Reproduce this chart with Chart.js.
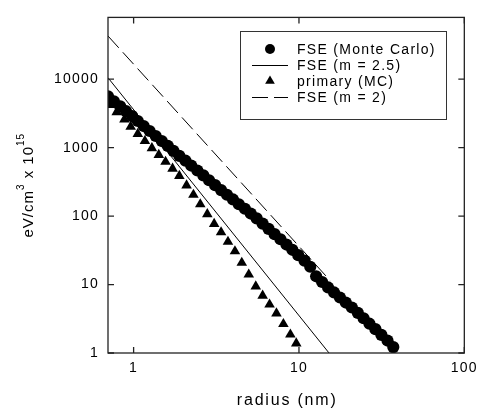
<!DOCTYPE html>
<html>
<head>
<meta charset="utf-8">
<script src="https://cdn.jsdelivr.net/npm/chart.js@4/dist/chart.umd.min.js"></script>
<style>
  body { margin: 0; background: #fff; }
  canvas { display: block; }
</style>
</head>
<body>
<canvas id="chart" width="483" height="414"></canvas>
<script>
// FSE energy density, Monte Carlo (circles)
const fseRadius = [0.70, 0.76, 0.83, 0.90, 0.98, 1.06, 1.15, 1.25, 1.36, 1.48, 1.61, 1.74, 1.89, 2.06, 2.23, 2.43, 2.64, 2.86, 3.11, 3.38, 3.67, 3.99, 4.33, 4.71, 5.11, 5.55, 6.03, 6.55, 7.12, 7.73, 8.40, 9.12, 9.90, 10.8, 11.7, 12.7, 13.8, 15.0, 16.3, 17.7, 19.2, 20.9, 22.7, 24.6, 26.7, 29.0, 31.5, 34.3, 37.2];
const fseValues = [5630, 4760, 4030, 3410, 2890, 2450, 2070, 1750, 1480, 1250, 1060, 898, 760, 645, 548, 464, 394, 334, 283, 240, 205, 175, 149, 128, 109, 92.6, 77.6, 65.1, 54.5, 45.9, 38.4, 32.2, 26.9, 22.4, 18.2, 13.2, 10.9, 9.07, 7.67, 6.47, 5.46, 4.62, 3.86, 3.22, 2.68, 2.23, 1.84, 1.52, 1.22];

// primary (MC), triangles
const primaryRadius = [0.72, 0.79, 0.88, 0.96, 1.06, 1.17, 1.29, 1.42, 1.56, 1.72, 1.89, 2.09, 2.30, 2.53, 2.79, 3.07, 3.38, 3.72, 4.10, 4.51, 4.97, 5.48, 6.03, 6.64, 7.31, 8.05, 8.87, 9.63];
const primaryValues = [4210, 3300, 2590, 2030, 1590, 1250, 985, 782, 621, 493, 386, 281, 205, 149, 107, 77.1, 58.1, 42.2, 30.6, 20.8, 14.0, 9.39, 6.88, 5.11, 3.78, 2.65, 1.86, 1.38];

// fitted lines (straight on log-log)
const fit25Radius = [0.7, 15.2];
const fit25Values = [10500, 1];
const fit2Radius = [0.7, 15.4];
const fit2Values = [42800, 11.5];

const xTicks = [1, 10, 100];
const yTicks = [1, 10, 100, 1000, 10000];
const legendLabels = ["FSE (Monte Carlo)", "FSE (m = 2.5)", "primary (MC)", "FSE (m = 2)"];

const FONT = "'Liberation Sans', Arial, sans-serif";
const toPoints = (xs, ys) => xs.map((x, i) => ({ x, y: ys[i] }));

const framePlugin = {
  id: "frame",
  beforeDraw(chart) {
    chart.ctx.letterSpacing = "1.2px";
  },
  afterDraw(chart) {
    const { ctx, chartArea: a, scales } = chart;
    ctx.save();

    // box and inward ticks
    ctx.strokeStyle = "#222";
    ctx.lineWidth = 1.3;
    ctx.strokeRect(a.left, a.top, a.right - a.left, a.bottom - a.top);
    ctx.beginPath();
    xTicks.forEach((v) => {
      const px = scales.x.getPixelForValue(v);
      ctx.moveTo(px, a.bottom); ctx.lineTo(px, a.bottom - 6);
      ctx.moveTo(px, a.top); ctx.lineTo(px, a.top + 6);
    });
    yTicks.forEach((v) => {
      const py = scales.y.getPixelForValue(v);
      ctx.moveTo(a.left, py); ctx.lineTo(a.left + 6, py);
      ctx.moveTo(a.right, py); ctx.lineTo(a.right - 6, py);
    });
    ctx.stroke();

    ctx.fillStyle = "#000";

    // x title
    ctx.font = "16px " + FONT;
    ctx.letterSpacing = "1.8px";
    ctx.textAlign = "center";
    ctx.textBaseline = "alphabetic";
    ctx.fillText("radius (nm)", (a.left + a.right) / 2 + 1, 405);

    // y title with superscripts
    ctx.save();
    ctx.translate(33, (a.top + a.bottom) / 2);
    ctx.rotate(-Math.PI / 2);
    ctx.textAlign = "left";
    ctx.letterSpacing = "1px";
    const parts = [
      ["eV/cm", 15, 0], ["3", 10, -9], [" x 10", 15, 0], ["15", 10, -9]
    ];
    let total = 0;
    parts.forEach((p) => { ctx.font = p[1] + "px " + FONT; total += ctx.measureText(p[0]).width; });
    let cx = -total / 2;
    parts.forEach((p) => {
      ctx.font = p[1] + "px " + FONT;
      ctx.fillText(p[0], cx, p[2]);
      cx += ctx.measureText(p[0]).width;
    });
    ctx.restore();

    // legend
    const ds = chart.data.datasets;
    ctx.fillStyle = "#fff";
    ctx.fillRect(240.5, 31.5, 206, 88);
    ctx.strokeStyle = "#333";
    ctx.lineWidth = 1;
    ctx.strokeRect(240.5, 31.5, 206, 88);
    ctx.font = "14px " + FONT;
    ctx.letterSpacing = "1.3px";
    ctx.textAlign = "left";
    ctx.textBaseline = "alphabetic";
    const rows = [49, 65, 81, 97];
    ds.forEach((d, i) => {
      const y = rows[i];
      ctx.fillStyle = "#000";
      ctx.strokeStyle = "#000";
      if (d.showLine) {
        ctx.lineWidth = 1;
        ctx.setLineDash(d.borderDash || []);
        ctx.beginPath();
        ctx.moveTo(252, y + 0.5); ctx.lineTo(288, y + 0.5);
        ctx.stroke();
        ctx.setLineDash([]);
      } else if (d.pointStyle === "triangle") {
        const r = 5.6;
        ctx.beginPath();
        ctx.moveTo(270, y - r);
        ctx.lineTo(270 + r * Math.sin(2 * Math.PI / 3), y + r / 2);
        ctx.lineTo(270 - r * Math.sin(2 * Math.PI / 3), y + r / 2);
        ctx.closePath();
        ctx.fill();
      } else {
        ctx.beginPath();
        ctx.arc(270, y, 5, 0, 2 * Math.PI);
        ctx.fill();
      }
      ctx.fillText(legendLabels[i], 297, y + 5);
    });

    ctx.restore();
  }
};

const axisFont = { family: FONT, size: 14 };

new Chart(document.getElementById("chart"), {
  type: "scatter",
  data: {
    datasets: [
      {
        label: legendLabels[0],
        data: toPoints(fseRadius, fseValues),
        pointStyle: "circle",
        pointRadius: 6.1,
        backgroundColor: "#000",
        borderColor: "#000",
        borderWidth: 0,
        showLine: false
      },
      {
        label: legendLabels[1],
        data: toPoints(fit25Radius, fit25Values),
        showLine: true,
        pointRadius: 0,
        borderColor: "#000",
        borderWidth: 1
      },
      {
        label: legendLabels[2],
        data: toPoints(primaryRadius, primaryValues),
        pointStyle: "triangle",
        pointRadius: 6.1,
        backgroundColor: "#000",
        borderColor: "#000",
        borderWidth: 0,
        showLine: false
      },
      {
        label: legendLabels[3],
        data: toPoints(fit2Radius, fit2Values),
        showLine: true,
        pointRadius: 0,
        borderColor: "#000",
        borderWidth: 1,
        borderDash: [16, 6]
      }
    ]
  },
  options: {
    responsive: false,
    animation: false,
    devicePixelRatio: 1,
    layout: { padding: { top: 1, right: 15, left: 0, bottom: 0 } },
    plugins: { legend: { display: false }, tooltip: { enabled: false } },
    scales: {
      x: {
        type: "logarithmic",
        position: "bottom",
        min: 0.7,
        max: 100,
        afterBuildTicks: (s) => { s.ticks = xTicks.map((v) => ({ value: v })); },
        afterFit: (s) => { s.height = 61; },
        grid: { display: false, drawTicks: false },
        border: { display: false },
        ticks: { padding: 7, color: "#000", font: axisFont, autoSkip: false, maxRotation: 0, callback: (v) => String(v) }
      },
      y: {
        type: "logarithmic",
        min: 1,
        max: 80000,
        afterBuildTicks: (s) => { s.ticks = yTicks.map((v) => ({ value: v })); },
        afterFit: (s) => { s.width = 108; },
        grid: { display: false, drawTicks: false },
        border: { display: false },
        ticks: { padding: 9, color: "#000", font: axisFont, autoSkip: false, callback: (v) => String(v) }
      }
    }
  },
  plugins: [framePlugin]
});
</script>
</body>
</html>
